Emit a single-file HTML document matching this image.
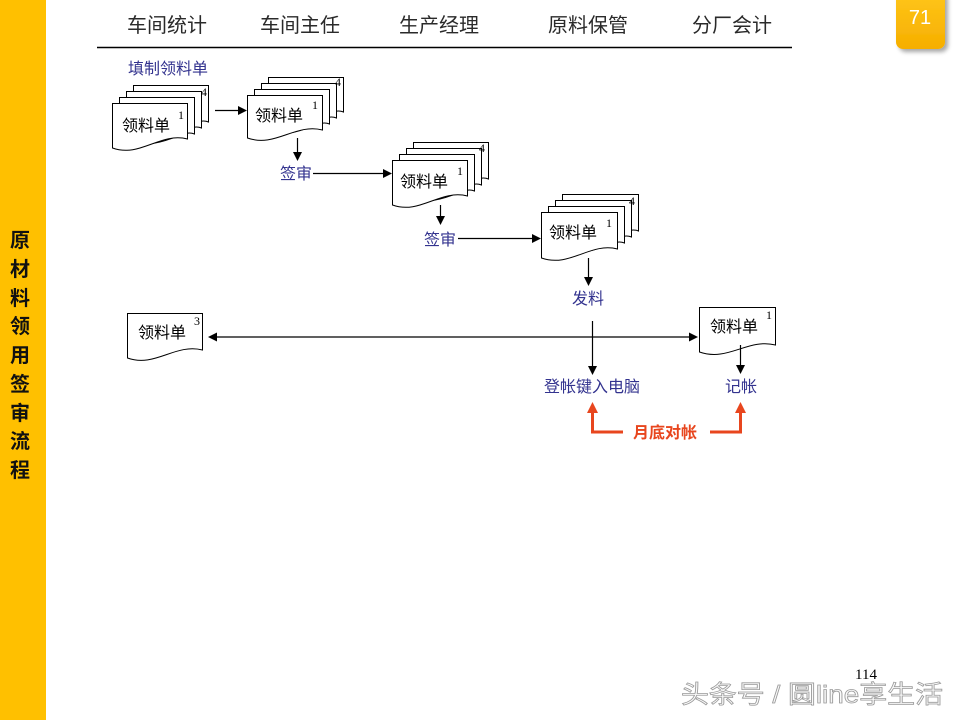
<!DOCTYPE html>
<html><head><meta charset="utf-8"><style>
html,body{margin:0;padding:0;background:#fff;}
body{width:960px;height:720px;overflow:hidden;position:relative;}
svg{position:absolute;left:0;top:0;}
</style></head><body>
<svg width="960" height="720" viewBox="0 0 960 720" xmlns="http://www.w3.org/2000/svg">
<defs>
<linearGradient id="bg" x1="0" y1="0" x2="0" y2="1"><stop offset="0" stop-color="#FFC71A"/><stop offset="1" stop-color="#F6AE00"/></linearGradient>
<filter id="sh" x="-30%" y="-30%" width="170%" height="170%"><feGaussianBlur in="SourceAlpha" stdDeviation="2"/><feOffset dx="3" dy="3"/><feComponentTransfer><feFuncA type="linear" slope="0.35"/></feComponentTransfer><feMerge><feMergeNode/><feMergeNode in="SourceGraphic"/></feMerge></filter>
</defs>
<rect x="0" y="0" width="46" height="720" fill="#FFC000"/>
<g font-family="'Liberation Sans','Noto Sans CJK SC',sans-serif" font-weight="bold" font-size="20" fill="#111" text-anchor="middle">
<text x="20" y="247">原</text><text x="20" y="276">材</text><text x="20" y="305">料</text><text x="20" y="333">领</text><text x="20" y="362">用</text><text x="20" y="391">签</text><text x="20" y="420">审</text><text x="20" y="448">流</text><text x="20" y="477">程</text>
</g>
<rect x="896" y="-10" width="49" height="59" rx="7" fill="url(#bg)" filter="url(#sh)"/>
<text x="920" y="24" font-family="'Liberation Sans',sans-serif" font-size="20" fill="#fff" text-anchor="middle">71</text>
<g font-family="'Liberation Sans','Noto Sans CJK SC',sans-serif" font-size="20" fill="#2a2a2a" text-anchor="middle">
<text x="167" y="32">车间统计</text><text x="300" y="32">车间主任</text><text x="439" y="32">生产经理</text><text x="588" y="32">原料保管</text><text x="732" y="32">分厂会计</text>
</g>
<line x1="97" y1="47.5" x2="792" y2="47.5" stroke="#000" stroke-width="1.5"/>
<g font-family="'Liberation Sans','Noto Sans CJK SC',sans-serif" font-size="16" fill="#33338f">
<text x="128" y="74">填制领料单</text>
<text x="280" y="179">签审</text>
<text x="424" y="245">签审</text>
<text x="572" y="304">发料</text>
<text x="544" y="392">登帐键入电脑</text>
<text x="725" y="392">记帐</text>
</g>
<g fill="#fff" stroke="#000" stroke-width="1">
<path d="M133.5,85.5 H208.5 V122 C195,116 183,138 133.5,131 Z"/>
<path d="M126.5,91.5 H201.5 V128 C188,122 176,144 126.5,137 Z"/>
<path d="M119.5,97.5 H194.5 V134 C181,128 169,150 119.5,143 Z"/>
<path d="M112.5,103.5 H187.5 V139 C160,132 140,158 112.5,148 Z"/>
<path d="M268.5,77.5 H343.5 V112 C330,106 318,128 268.5,121 Z"/>
<path d="M261.5,83.5 H336.5 V118 C323,112 311,134 261.5,127 Z"/>
<path d="M254.5,89.5 H329.5 V124 C316,118 304,140 254.5,133 Z"/>
<path d="M247.5,95.5 H322.5 V130 C295,123 275,148 247.5,138 Z"/>
<path d="M413.5,142.5 H488.5 V179 C475,173 463,195 413.5,188 Z"/>
<path d="M406.5,148.5 H481.5 V185 C468,179 456,201 406.5,194 Z"/>
<path d="M399.5,154.5 H474.5 V191 C461,185 449,207 399.5,200 Z"/>
<path d="M392.5,160.5 H467.5 V196 C440,189 420,215 392.5,205 Z"/>
<path d="M562.5,194.5 H638.5 V231 C625,225 613,247 562.5,240 Z"/>
<path d="M555.5,200.5 H631.5 V237 C618,231 606,253 555.5,246 Z"/>
<path d="M548.5,206.5 H624.5 V243 C611,237 599,259 548.5,252 Z"/>
<path d="M541.5,212.5 H617.5 V249 C590,242 570,268 541.5,258 Z"/>
<path d="M127.5,313.5 H202.5 V350 C175,343 155,368 127.5,358 Z"/>
<path d="M699.5,307.5 H775.5 V345 C748,338 728,362 699.5,352 Z"/>
</g>
<g font-family="'Liberation Sans','Noto Sans CJK SC',sans-serif" font-size="16" fill="#000">
<text x="122" y="131">领料单</text>
<text x="255" y="121">领料单</text>
<text x="400" y="187">领料单</text>
<text x="549" y="238">领料单</text>
<text x="138" y="338">领料单</text>
<text x="710" y="332">领料单</text>
</g>
<g font-family="'Liberation Serif',serif" font-size="12" fill="#000">
<text x="178" y="119">1</text><text x="201" y="96">4</text>
<text x="312" y="109">1</text><text x="335" y="86">4</text>
<text x="457" y="175">1</text><text x="479" y="152">4</text>
<text x="606" y="227">1</text><text x="629" y="205">4</text>
<text x="194" y="325">3</text>
<text x="766" y="319">1</text>
</g>
<g stroke="#000" stroke-width="1.2" fill="none">
<line x1="215" y1="110.5" x2="239" y2="110.5"/>
<line x1="297.5" y1="138" x2="297.5" y2="153"/>
<line x1="313" y1="173.5" x2="384" y2="173.5"/>
<line x1="440.5" y1="205" x2="440.5" y2="217"/>
<line x1="458" y1="238.5" x2="533" y2="238.5"/>
<line x1="588.5" y1="258" x2="588.5" y2="278"/>
<line x1="216" y1="337" x2="690" y2="337"/>
<line x1="592.5" y1="321" x2="592.5" y2="367"/>
<line x1="740.5" y1="345" x2="740.5" y2="366"/>
</g>
<g fill="#000">
<path d="M247,110.5 L238,106 L238,115 Z"/>
<path d="M297.5,161 L293,152 L302,152 Z"/>
<path d="M392,173.5 L383,169 L383,178 Z"/>
<path d="M440.5,225 L436,216 L445,216 Z"/>
<path d="M541,238.5 L532,234 L532,243 Z"/>
<path d="M588.5,286 L584,277 L593,277 Z"/>
<path d="M208,337 L217,332.5 L217,341.5 Z"/>
<path d="M698,337 L689,332.5 L689,341.5 Z"/>
<path d="M592.5,375 L588,366 L597,366 Z"/>
<path d="M740.5,374 L736,365 L745,365 Z"/>
</g>
<g stroke="#E8461E" stroke-width="3" fill="none">
<polyline points="592.5,411 592.5,432 623,432"/>
<polyline points="710,432 740.5,432 740.5,411"/>
</g>
<g fill="#E8461E">
<path d="M592.5,402 L587,413 L598,413 Z"/>
<path d="M740.5,402 L735,413 L746,413 Z"/>
</g>
<text x="633" y="438" font-family="'Liberation Sans','Noto Sans CJK SC',sans-serif" font-size="16" font-weight="bold" fill="#E8461E">月底对帐</text>
<text x="855" y="679" font-family="'Liberation Serif',serif" font-size="15" fill="#000">114</text>
<text x="681" y="703" font-family="'Liberation Sans','Noto Sans CJK SC',sans-serif" font-size="25" fill="#fafafa" stroke="#9a9a9a" stroke-width="0.8" textLength="262" lengthAdjust="spacingAndGlyphs">头条号 / 圆line享生活</text>
</svg>
</body></html>
